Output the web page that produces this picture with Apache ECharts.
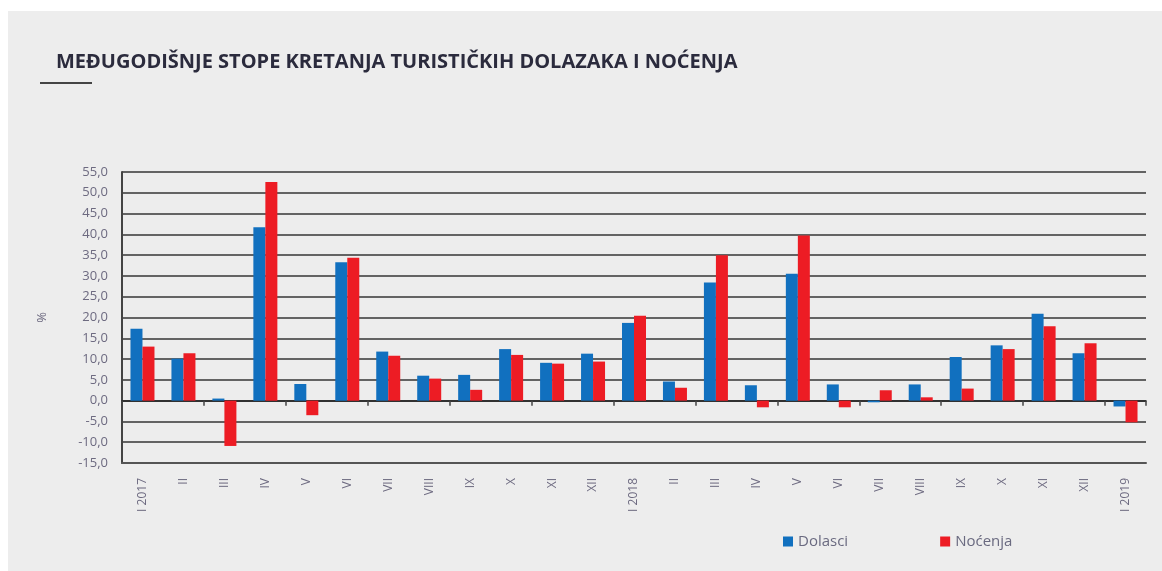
<!DOCTYPE html>
<html>
<head>
<meta charset="utf-8">
<script src="https://cdn.jsdelivr.net/npm/echarts@6/dist/echarts.min.js"></script>
<style>
  html, body { margin: 0; padding: 0; background: #ffffff; }
  #wrap { position: absolute; left: 8px; top: 11px; width: 1154px; height: 560px; background: #ededed; }
  #chart { position: absolute; left: 0; top: 0; width: 1162px; height: 571px; }
</style>
</head>
<body>
<div id="wrap"></div>
<div id="chart"></div>
<script>
const categories = ['I 2017','II','III','IV','V','VI','VII','VIII','IX','X','XI','XII',
                    'I 2018','II','III','IV','V','VI','VII','VIII','IX','X','XI','XII','I 2019'];
const dolasci = [17.3, 10.1, 0.5, 41.7, 4.0, 33.3, 11.8, 6.0, 6.2, 12.4, 9.1, 11.3,
                 18.7, 4.6, 28.4, 3.7, 30.5, 3.9, -0.4, 3.9, 10.5, 13.3, 20.9, 11.4, -1.4];
const nocenja = [13.0, 11.4, -10.9, 52.6, -3.5, 34.4, 10.8, 5.3, 2.6, 11.0, 8.9, 9.4,
                 20.4, 3.1, 35.0, -1.6, 39.7, -1.6, 2.5, 0.8, 2.9, 12.4, 17.9, 13.8, -5.2];
const yMin = -15, yMax = 55, yStep = 5;
const titleText = 'MEĐUGODIŠNJE STOPE KRETANJA TURISTIČKIH DOLAZAKA I NOĆENJA';

const chart = echarts.init(document.getElementById('chart'), null, { renderer: 'canvas' });
const labelColor = '#6d6a80';
chart.setOption({
  backgroundColor: 'transparent',
  textStyle: { fontFamily: 'Open Sans' },
  title: {
    text: titleText,
    left: 51, top: 47,
    textStyle: { fontFamily: 'Open Sans', fontSize: 20, fontWeight: 'bold', color: '#2b2b3d' }
  },
  graphic: [{
    type: 'line',
    shape: { x1: 40, y1: 83, x2: 92, y2: 83 },
    style: { stroke: '#444', lineWidth: 2 }
  }],
  legend: {
    data: ['Dolasci', 'Noćenja'],
    left: 778, top: 529,
    icon: 'rect', itemWidth: 10, itemHeight: 10, itemGap: 92, itemTextGap: 5,
    textStyle: { fontSize: 15, color: '#6a6a80', fontFamily: 'Open Sans' }
  },
  grid: { left: 122, right: 16, top: 172, bottom: 108 },
  xAxis: [{
    type: 'category',
    data: categories,
    position: 'bottom',
    axisLine: { show: true, onZero: false, lineStyle: { color: '#555', width: 2 } },
    axisTick: { show: false },
    axisLabel: { rotate: 90, margin: 15, fontSize: 12, color: labelColor, interval: 0 }
  }, {
    type: 'category',
    data: categories,
    position: 'top',
    axisLine: { show: true, onZero: true, lineStyle: { color: '#222', width: 1.5 } },
    axisTick: { show: true, inside: true, length: 5, lineStyle: { color: '#444', width: 1.5 } },
    axisLabel: { show: false }
  }],
  yAxis: {
    type: 'value',
    min: yMin, max: yMax, interval: yStep,
    name: '%', nameLocation: 'middle', nameRotate: 90, nameGap: 73,
    nameTextStyle: { color: labelColor, fontSize: 13 },
    axisLine: { show: true, lineStyle: { color: '#444', width: 2 } },
    axisTick: { show: false },
    axisLabel: {
      fontSize: 13, color: labelColor, margin: 14,
      formatter: v => v.toFixed(1).replace('.', ',')
    },
    splitLine: { show: true, lineStyle: { color: '#353535', width: 1.6 } }
  },
  series: [{
    name: 'Dolasci', type: 'bar', xAxisIndex: 0, data: dolasci,
    barWidth: 12, barGap: '0%',
    itemStyle: { color: '#1170bf' }
  }, {
    name: 'Noćenja', type: 'bar', xAxisIndex: 0, data: nocenja,
    barWidth: 12, barGap: '0%',
    itemStyle: { color: '#ed1c24' }
  }]
});
</script>
</body>
</html>
